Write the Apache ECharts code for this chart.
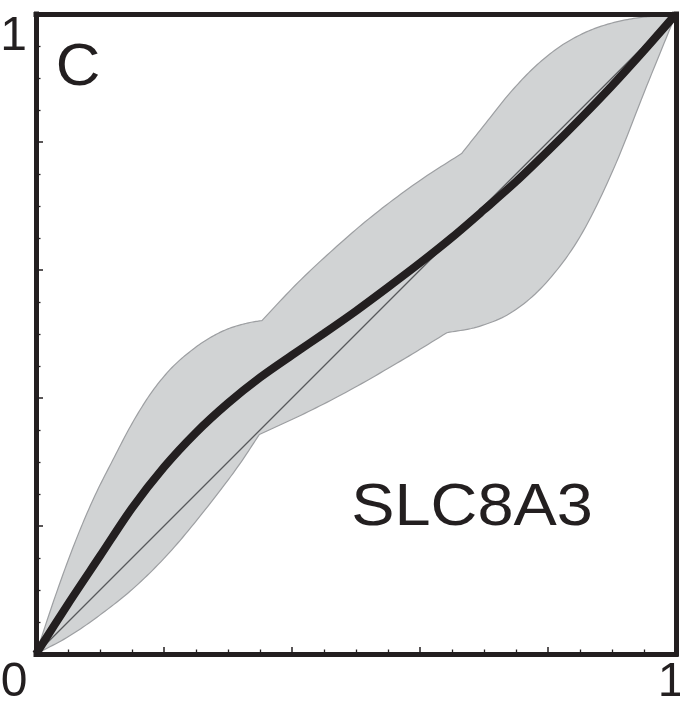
<!DOCTYPE html>
<html>
<head>
<meta charset="utf-8">
<script src="https://cdn.jsdelivr.net/npm/echarts@6/dist/echarts.min.js"></script>
<style>
  html, body { margin: 0; padding: 0; background: #ffffff; }
  #chart { width: 680px; height: 702px; }
</style>
</head>
<body>
<div id="chart"></div>
<script>
// ---- data ----
const panelLetter = 'C';
const geneName = 'SLC8A3';
const xTickLabels = ['0', '1'];
const yTickLabels = ['1'];

// mean curve (thick black)
const meanCurve = [
  [0, 0], [0.05, 0.078], [0.1, 0.153], [0.15, 0.228], [0.2, 0.292],
  [0.25, 0.346], [0.3, 0.392], [0.35, 0.432], [0.4, 0.467], [0.45, 0.501],
  [0.5, 0.536], [0.55, 0.573], [0.6, 0.611], [0.65, 0.651], [0.7, 0.694],
  [0.75, 0.738], [0.8, 0.786], [0.85, 0.836], [0.9, 0.888], [0.95, 0.943], [1, 1]
];

// identity diagonal (thin)
const diagonalLine = [[0, 0], [1, 1]];

// confidence band, upper boundary: smooth pieces joined at kinks
const upperBand = [
  [[0, 0], [0.03, 0.09], [0.06, 0.172], [0.09, 0.243], [0.12, 0.303], [0.15, 0.36],
   [0.18, 0.408], [0.21, 0.445], [0.24, 0.472], [0.27, 0.493], [0.3, 0.508],
   [0.33, 0.517], [0.353, 0.521]],
  [[0.353, 0.521], [0.41, 0.581], [0.47, 0.637], [0.53, 0.688], [0.6, 0.74], [0.665, 0.782]],
  [[0.665, 0.782], [0.7, 0.826], [0.74, 0.876], [0.78, 0.918], [0.82, 0.95], [0.86, 0.972],
   [0.9, 0.986], [0.94, 0.994], [0.97, 0.997], [1, 1]]
];

// confidence band, lower boundary: smooth pieces joined at kinks
const lowerBand = [
  [[0, 0], [0.052, 0.028], [0.104, 0.064], [0.156, 0.106], [0.208, 0.158], [0.26, 0.22],
   [0.312, 0.288], [0.349, 0.343]],
  [[0.349, 0.343], [0.42, 0.376], [0.49, 0.412], [0.57, 0.458], [0.642, 0.502]],
  [[0.642, 0.502], [0.693, 0.512], [0.745, 0.535], [0.797, 0.58], [0.85, 0.652],
   [0.902, 0.757], [0.954, 0.887], [1, 1]]
];

// ---- chart ----
const INK = '#231f20';
const FONT = '"Liberation Sans", Arial, Helvetica, sans-serif';
const chart = echarts.init(document.getElementById('chart'), null, { renderer: 'canvas' });

const frameAxisLine = { show: true, onZero: false, lineStyle: { color: INK, width: 5, cap: 'square' } };

function isVal(v, t) { return Math.abs(v - t) < 1e-9; }

// Catmull-Rom sampling of pixel points (after the axes have mapped them)
function sampleSegment(px) {
  const out = [];
  const n = px.length;
  for (let i = 0; i < n - 1; i++) {
    const p1 = px[i], p2 = px[i + 1];
    const p0 = i > 0 ? px[i - 1] : [2 * p1[0] - p2[0], 2 * p1[1] - p2[1]];
    const p3 = i + 2 < n ? px[i + 2] : [2 * p2[0] - p1[0], 2 * p2[1] - p1[1]];
    const steps = 12;
    for (let s = 0; s < steps; s++) {
      const t = s / steps, t2 = t * t, t3 = t2 * t;
      const f = function (a, b, c, d) {
        return 0.5 * ((2 * b) + (-a + c) * t + (2 * a - 5 * b + 4 * c - d) * t2 + (-a + 3 * b - 3 * c + d) * t3);
      };
      out.push([f(p0[0], p1[0], p2[0], p3[0]), f(p0[1], p1[1], p2[1], p3[1])]);
    }
  }
  out.push(px[n - 1]);
  return out;
}

function boundaryPixels(pieces, api) {
  let pts = [];
  pieces.forEach(function (seg) {
    const px = seg.map(function (p) { return api.coord(p); });
    const s = sampleSegment(px);
    if (pts.length) s.shift();
    pts = pts.concat(s);
  });
  return pts;
}

const option = {
  animation: false,
  backgroundColor: '#ffffff',
  grid: { left: 36, top: 14, width: 640, height: 640, containLabel: false, outerBoundsMode: 'none' },
  xAxis: [
    {
      type: 'value', min: 0, max: 1, interval: 0.2, position: 'bottom', z: 10,
      axisLine: frameAxisLine,
      axisTick: { show: true, inside: true, length: 7, lineStyle: { color: INK, width: 1.5 } },
      minorTick: { show: true, splitNumber: 4, length: 4.5, lineStyle: { color: INK, width: 1.3 } },
      splitLine: { show: false },
      axisLabel: {
        show: true, margin: 5, color: INK, fontFamily: FONT, fontSize: 48,
        showMinLabel: true, showMaxLabel: true, hideOverlap: false,
        formatter: function (v) {
          if (isVal(v, 0)) return '{z|' + xTickLabels[0] + '}';
          if (isVal(v, 1)) return '{o|' + xTickLabels[1] + '}';
          return '';
        },
        rich: {
          z: { fontSize: 48, fontFamily: FONT, color: INK, padding: [0, 44, 0, 0] },
          o: { fontSize: 48, fontFamily: FONT, color: INK, padding: [0, 10, 0, 0] }
        }
      }
    },
    {
      type: 'value', min: 0, max: 1, position: 'top', z: 10,
      axisLine: frameAxisLine, axisTick: { show: false }, axisLabel: { show: false },
      splitLine: { show: false }
    }
  ],
  yAxis: [
    {
      type: 'value', min: 0, max: 1, interval: 0.2, position: 'left', z: 10,
      axisLine: frameAxisLine,
      axisTick: { show: true, inside: true, length: 7, lineStyle: { color: INK, width: 1.5 } },
      minorTick: { show: true, splitNumber: 4, length: 4.5, lineStyle: { color: INK, width: 1.3 } },
      splitLine: { show: false },
      axisLabel: {
        show: true, margin: 9, color: INK, fontFamily: FONT, fontSize: 48,
        showMinLabel: true, showMaxLabel: true, hideOverlap: false,
        formatter: function (v) {
          if (isVal(v, 1)) return '{o|' + yTickLabels[0] + '}';
          return '';
        },
        rich: {
          o: { fontSize: 48, fontFamily: FONT, color: INK, padding: [46, 0, 0, 0] }
        }
      }
    },
    {
      type: 'value', min: 0, max: 1, position: 'right', z: 10,
      axisLine: frameAxisLine, axisTick: { show: false }, axisLabel: { show: false },
      splitLine: { show: false }
    }
  ],
  series: [
    {
      name: 'band', type: 'custom', coordinateSystem: 'cartesian2d',
      xAxisIndex: 0, yAxisIndex: 0, clip: true, z: 1,
      data: [[0, 0]],
      renderItem: function (params, api) {
        const up = boundaryPixels(upperBand, api);
        const lo = boundaryPixels(lowerBand, api);
        const pts = up.concat(lo.slice().reverse());
        return {
          type: 'polygon',
          shape: { points: pts },
          style: { fill: '#d1d3d4', stroke: '#9d9fa2', lineWidth: 1.2, lineJoin: 'round' }
        };
      },
      silent: true
    },
    {
      name: 'diagonal', type: 'line', xAxisIndex: 0, yAxisIndex: 0, z: 2,
      data: diagonalLine, showSymbol: false, symbol: 'none',
      lineStyle: { color: '#58595b', width: 1.3 }, silent: true
    },
    {
      name: 'mean', type: 'line', xAxisIndex: 0, yAxisIndex: 0, z: 3,
      data: meanCurve, showSymbol: false, symbol: 'none', smooth: 0.3,
      lineStyle: { color: INK, width: 8 }, silent: true
    }
  ],
  graphic: [
    {
      type: 'text', x: 78, y: 68, scaleX: 1.03, z: 20,
      style: { text: panelLetter, font: '60px ' + FONT, fill: INK, align: 'center', verticalAlign: 'middle' }
    },
    {
      type: 'text', x: 472, y: 509, scaleX: 1.1, z: 20,
      style: { text: geneName, font: '59px ' + FONT, fill: INK, align: 'center', verticalAlign: 'middle' }
    }
  ]
};

chart.setOption(option);
</script>
</body>
</html>
